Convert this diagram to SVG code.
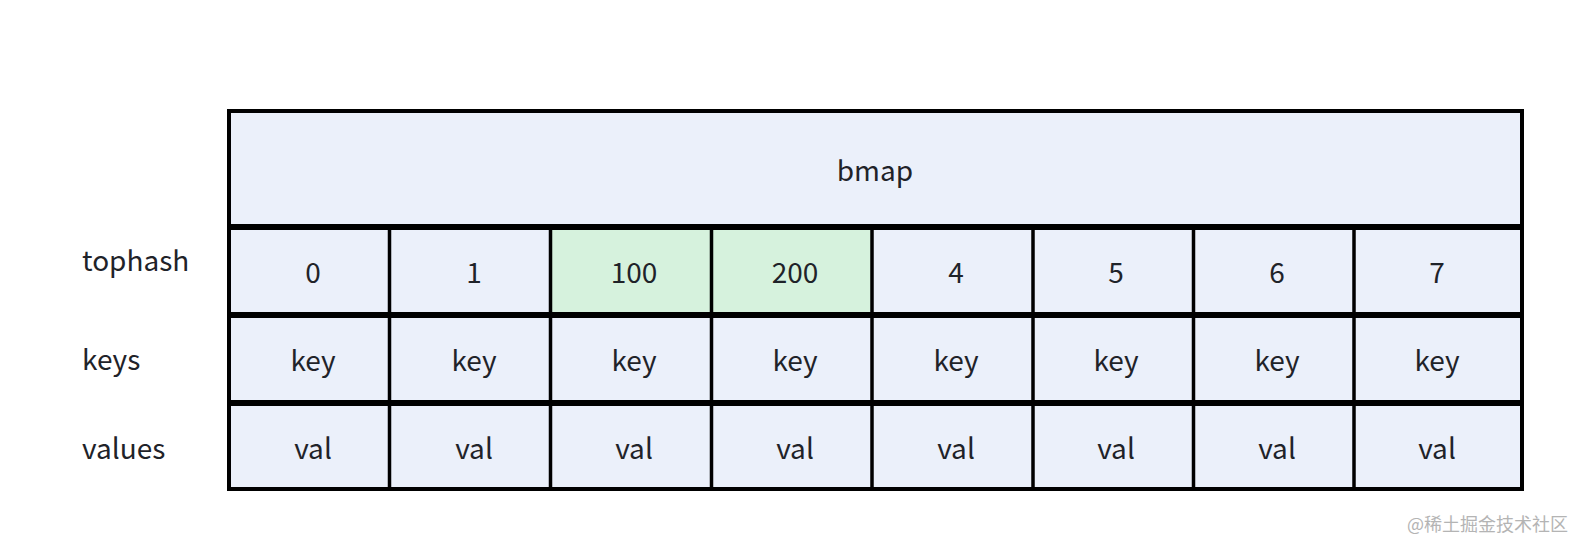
<svg xmlns="http://www.w3.org/2000/svg" width="1574" height="544" viewBox="0 0 1574 544">
<style>
.t{font-family:"Noto Sans CJK SC","Noto Sans",sans-serif;font-size:28px;fill:#1f2329;text-anchor:middle}
.l{font-family:"Noto Sans CJK SC","Noto Sans",sans-serif;font-size:28px;fill:#1f2329}
.c{fill:#EBF0FA}
.g{fill:#D6F2DD}
.ln{stroke:#000;fill:none}
.wm{font-family:"Noto Sans CJK SC",sans-serif;font-size:18px;fill:#b4b4b4;text-anchor:end}
</style>
<rect width="1574" height="544" fill="#fff"/>
<g id="labels">
<text class="l" x="82" y="271">tophash</text>
<text class="l" x="82" y="370">keys</text>
<text class="l" x="82" y="459">values</text>
</g>
<g id="bmap">
<rect class="c" x="229" y="111" width="1293" height="378"/>
<rect class="g" x="550.5" y="227" width="322" height="88"/>
<text class="t" x="875" y="181">bmap</text>
</g>
<g id="grid">
<rect class="ln" x="229" y="111" width="1293" height="378" stroke-width="4"/>
<path class="ln" stroke-width="6" d="M229 227H1522M229 315H1522M229 403H1522"/>
<path class="ln" stroke-width="3.5" d="M389.5 227V489M550.5 227V489M711.5 227V489M872 227V489M1033 227V489M1193.5 227V489M1354 227V489"/>
</g>
<g id="tophash">
<text class="t" x="313" y="283">0</text>
<text class="t" x="474" y="283">1</text>
<text class="t" x="634" y="283">100</text>
<text class="t" x="795" y="283">200</text>
<text class="t" x="956" y="283">4</text>
<text class="t" x="1116" y="283">5</text>
<text class="t" x="1277" y="283">6</text>
<text class="t" x="1437" y="283">7</text>
</g>
<g id="keys">
<text class="t" x="313" y="371">key</text>
<text class="t" x="474" y="371">key</text>
<text class="t" x="634" y="371">key</text>
<text class="t" x="795" y="371">key</text>
<text class="t" x="956" y="371">key</text>
<text class="t" x="1116" y="371">key</text>
<text class="t" x="1277" y="371">key</text>
<text class="t" x="1437" y="371">key</text>
</g>
<g id="values">
<text class="t" x="313" y="459">val</text>
<text class="t" x="474" y="459">val</text>
<text class="t" x="634" y="459">val</text>
<text class="t" x="795" y="459">val</text>
<text class="t" x="956" y="459">val</text>
<text class="t" x="1116" y="459">val</text>
<text class="t" x="1277" y="459">val</text>
<text class="t" x="1437" y="459">val</text>
</g>
<text class="wm" x="1568" y="531">@稀土掘金技术社区</text>
</svg>
